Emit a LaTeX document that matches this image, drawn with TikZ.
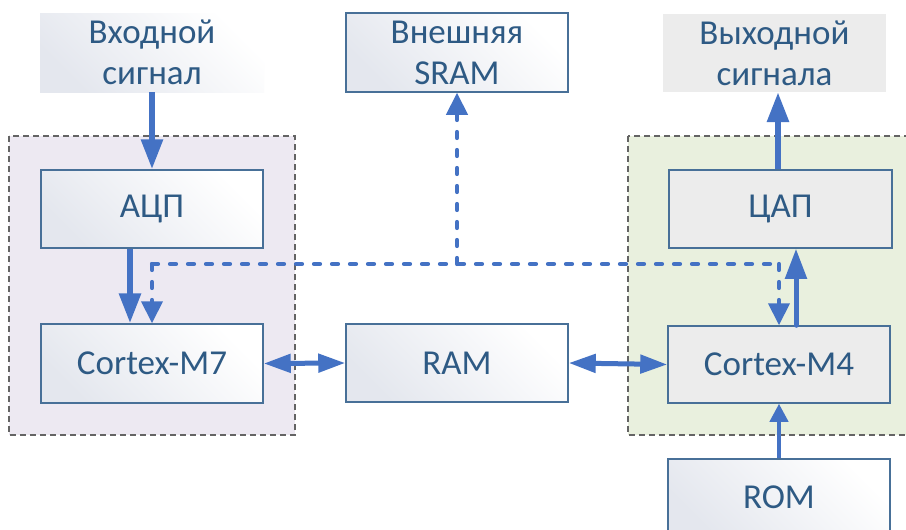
\documentclass[tikz,border=0pt]{standalone}
\usepackage{fontspec}
\setmainfont{Carlito}
\usetikzlibrary{arrows.meta}
\definecolor{arrowc}{RGB}{68,114,196}
\definecolor{borderc}{RGB}{72,112,152}
\definecolor{textc}{RGB}{46,90,132}
\definecolor{grayfill}{RGB}{236,236,236}
\definecolor{leftgrp}{RGB}{237,233,242}
\definecolor{rightgrp}{RGB}{233,240,222}
\definecolor{gradc}{RGB}{228,231,238}
\definecolor{grpborder}{RGB}{100,100,100}
\begin{document}
\begin{tikzpicture}[x=1pt,y=-1pt,
  base/.style={rectangle, inner sep=0pt, text=textc, align=center,
    font=\fontsize{35}{41}\selectfont},
  gradbox/.style={base, left color=gradc, right color=white, shading angle=135},
  gradbord/.style={gradbox, draw=borderc, line width=1.5pt},
  graybox/.style={base, fill=grayfill},
  graybord/.style={graybox, draw=borderc, line width=1.5pt},
  grp/.style={draw=grpborder, line width=1.3pt, dash pattern=on 6pt off 4pt},
  bigarrow/.style={draw=arrowc, line width=6pt, -{Triangle[length=30pt,width=21pt]}},
  medarrow/.style={draw=arrowc, line width=5pt, -{Triangle[length=30pt,width=21pt]}},
  smallarrow/.style={draw=arrowc, line width=4pt, -{Triangle[length=18pt,width=18pt]}},
  dblarrow/.style={draw=arrowc, line width=5pt, {Triangle[length=27pt,width=18pt]}-{Triangle[length=27pt,width=18pt]}},
  dashline/.style={draw=arrowc, line width=4.2pt, dash pattern=on 6pt off 12pt, line cap=round},
  dasharrow/.style={dashline, -{Triangle[length=22pt,width=21pt]}}
]
\useasboundingbox (0,0) rectangle (906,530);
\clip (0,0) rectangle (906,530);
\fill[white] (0,0) rectangle (906,530);
% groups
\path[grp, fill=leftgrp] (9,136) rectangle (295,435);
\path[grp, fill=rightgrp] (628,136) rectangle (915,435);
% nodes
\node[gradbox, minimum width=224pt, minimum height=79pt] (in) at (152,52.5) {Входной\\сигнал};
\node[gradbord, minimum width=222pt, minimum height=79pt] (sram) at (457,52.5) {Внешняя\\SRAM};
\node[graybox, minimum width=223pt, minimum height=78pt] (out) at (774.5,53) {Выходной\\сигнала};
\node[gradbord, minimum width=222pt, minimum height=78pt] (adc) at (152,209) {АЦП};
\node[graybord, minimum width=223pt, minimum height=78pt] (dac) at (780.5,209) {ЦАП};
\node[gradbord, minimum width=222pt, minimum height=79pt] (m7) at (152,363.5) {Cortex-M7};
\node[gradbord, minimum width=222pt, minimum height=78pt] (ram) at (457,363) {RAM};
\node[graybord, minimum width=222pt, minimum height=77pt] (m4) at (779,364.5) {Cortex-M4};
\node[gradbord, minimum width=222pt, minimum height=76pt] (rom) at (779,497) {ROM};
% junction coordinates
\coordinate (j1) at (152,264);
\coordinate (j2) at (779,264);
\coordinate (j3) at (457,264);
% dashed bus
\draw[dashline] (j1) -- (j2);
\draw[dasharrow] (j1) -- (m7.north);
\draw[dasharrow] (j2) -- (m4.north);
\draw[dasharrow] (j3) -- (sram.south);
% solid arrows
\draw[bigarrow] (in.south) -- (adc.north);
\draw[bigarrow] ([xshift=-22pt]adc.south) -- ([xshift=-22pt]m7.north);
\draw[dblarrow] (m7.east) -- (ram.west);
\draw[dblarrow] (ram.east) -- (m4.west);
\draw[medarrow, line cap=round] ([xshift=17pt]m4.north) -- ([xshift=15.5pt]dac.south);
\draw[bigarrow] ([xshift=-2.5pt]dac.north) -- ([xshift=-2.5pt]dac.north |- out.south);
\draw[smallarrow] (rom.north) -- (m4.south);
\end{tikzpicture}
\end{document}
